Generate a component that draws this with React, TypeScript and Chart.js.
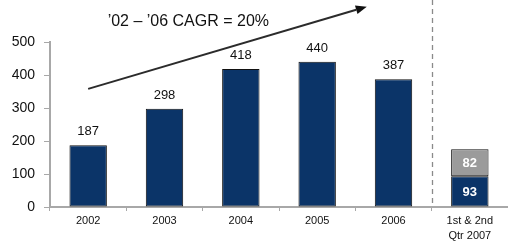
import React, { useEffect, useRef } from "react";
import { Chart, registerables } from "chart.js";

Chart.register(...registerables);

const categories: (string | string[])[] = ["2002", "2003", "2004", "2005", "2006", ["1st & 2nd", "Qtr 2007"]];
const firstHalfValues: (number | null)[] = [187, 298, 418, 440, 387, 93];
const secondHalfValues: (number | null)[] = [null, null, null, null, null, 82];
const yTicks = [0, 100, 200, 300, 400, 500];
const cagrText = "’02 – ’06 CAGR = 20%";
// annotation anchors in data space (category index, value)
const arrowFrom = { cat: 0, value: 358 };
const arrowTo = { cat: 3.65, value: 607 };
const cagrLabelAt = { cat: 0.255, value: 550 };

const NAVY = "#0b3468";
const GRAY = "#9b9b9b";
const FONT = "'Liberation Sans', Arial, sans-serif";

const overlayPlugin = {
  id: "overlay",
  afterDatasetsDraw(chart: any) {
    const { ctx, scales } = chart;
    const xs = scales.x;
    const ys = scales.y;
    const catPx = (c: number) => {
      const p0 = xs.getPixelForValue(0);
      const p1 = xs.getPixelForValue(1);
      return p0 + (p1 - p0) * c;
    };
    ctx.save();
    // dashed separator between 2006 and 2007
    const sepX = Math.round((xs.getPixelForValue(4) + xs.getPixelForValue(5)) / 2) + 0.5;
    ctx.strokeStyle = "#8a8a8a";
    ctx.lineWidth = 1.3;
    ctx.setLineDash([5, 4]);
    ctx.beginPath();
    ctx.moveTo(sepX, 0);
    ctx.lineTo(sepX, ys.getPixelForValue(0));
    ctx.stroke();
    ctx.setLineDash([]);

    // value labels
    const meta0 = chart.getDatasetMeta(0);
    const meta1 = chart.getDatasetMeta(1);
    ctx.textAlign = "center";
    ctx.textBaseline = "alphabetic";
    firstHalfValues.forEach((v, i) => {
      if (v == null) return;
      const bar = meta0.data[i];
      if (secondHalfValues[i] == null) {
        ctx.fillStyle = "#111";
        ctx.font = `13px ${FONT}`;
        ctx.fillText(String(v), bar.x, bar.y - 10);
      } else {
        ctx.fillStyle = "#fff";
        ctx.font = `bold 13px ${FONT}`;
        ctx.textBaseline = "middle";
        ctx.fillText(String(v), bar.x, (bar.y + bar.base) / 2 + 1);
        ctx.textBaseline = "alphabetic";
      }
    });
    secondHalfValues.forEach((v, i) => {
      if (v == null) return;
      const bar = meta1.data[i];
      ctx.fillStyle = "#fff";
      ctx.font = `bold 13px ${FONT}`;
      ctx.textBaseline = "middle";
      ctx.fillText(String(v), bar.x, (bar.y + bar.base) / 2 + 1);
      ctx.textBaseline = "alphabetic";
    });

    // CAGR arrow
    const x1 = catPx(arrowFrom.cat);
    const y1 = ys.getPixelForValue(arrowFrom.value);
    const x2 = catPx(arrowTo.cat);
    const y2 = ys.getPixelForValue(arrowTo.value);
    const ang = Math.atan2(y2 - y1, x2 - x1);
    const headLen = 11;
    const headW = 4.5;
    const bx = x2 - headLen * Math.cos(ang);
    const by = y2 - headLen * Math.sin(ang);
    ctx.strokeStyle = "#2b2b2b";
    ctx.lineWidth = 2;
    ctx.beginPath();
    ctx.moveTo(x1, y1);
    ctx.lineTo(bx, by);
    ctx.stroke();
    ctx.fillStyle = "#111";
    ctx.beginPath();
    ctx.moveTo(x2, y2);
    ctx.lineTo(bx + headW * Math.sin(ang), by - headW * Math.cos(ang));
    ctx.lineTo(bx - headW * Math.sin(ang), by + headW * Math.cos(ang));
    ctx.closePath();
    ctx.fill();

    // CAGR text
    ctx.fillStyle = "#111";
    ctx.font = `16px ${FONT}`;
    ctx.textAlign = "left";
    ctx.fillText(cagrText, catPx(cagrLabelAt.cat), ys.getPixelForValue(cagrLabelAt.value));
    ctx.restore();
  },
};

export default function App() {
  const ref = useRef<HTMLCanvasElement | null>(null);
  useEffect(() => {
    if (!ref.current) return;
    const chart = new Chart(ref.current, {
      type: "bar",
      data: {
        labels: categories as any,
        datasets: [
          {
            data: firstHalfValues,
            backgroundColor: NAVY,
            borderColor: "#111",
            borderWidth: 1,
            borderSkipped: false,
            categoryPercentage: 1,
            barPercentage: 0.49,
          },
          {
            data: secondHalfValues,
            backgroundColor: GRAY,
            borderColor: "#111",
            borderWidth: 1,
            borderSkipped: false,
            categoryPercentage: 1,
            barPercentage: 0.49,
          },
        ],
      },
      options: {
        animation: false,
        responsive: false,
        layout: { padding: { top: 42, right: 0, left: 0, bottom: 0 } },
        plugins: { legend: { display: false }, tooltip: { enabled: false } },
        scales: {
          x: {
            stacked: true,
            grid: { display: true, drawOnChartArea: false, drawTicks: true, tickLength: 4, color: "#a8a8a8", offset: true },
            border: { display: true, color: "#a8a8a8", width: 2 },
            ticks: { color: "#111", font: { family: FONT, size: 11, lineHeight: 1.35 }, padding: 3, maxRotation: 0, autoSkip: false },
            afterFit: (s: any) => { s.height = 41; },
          },
          y: {
            stacked: true,
            min: 0,
            max: 500,
            afterBuildTicks: (s: any) => { s.ticks = yTicks.map((v) => ({ value: v })); },
            grid: { display: true, drawOnChartArea: false, drawTicks: true, tickLength: 6, color: "#a8a8a8" },
            border: { display: true, color: "#a8a8a8", width: 2 },
            ticks: { color: "#111", font: { family: FONT, size: 14 }, padding: 9 },
            afterFit: (s: any) => { s.width = 50; },
          },
        },
      },
      plugins: [overlayPlugin],
    });
    return () => chart.destroy();
  }, []);
  return (
    <div style={{ position: "fixed", left: 0, top: 0, width: 508, height: 248, background: "#fff" }}>
      <canvas ref={ref} width={508} height={248} style={{ width: 508, height: 248 }} />
    </div>
  );
}
